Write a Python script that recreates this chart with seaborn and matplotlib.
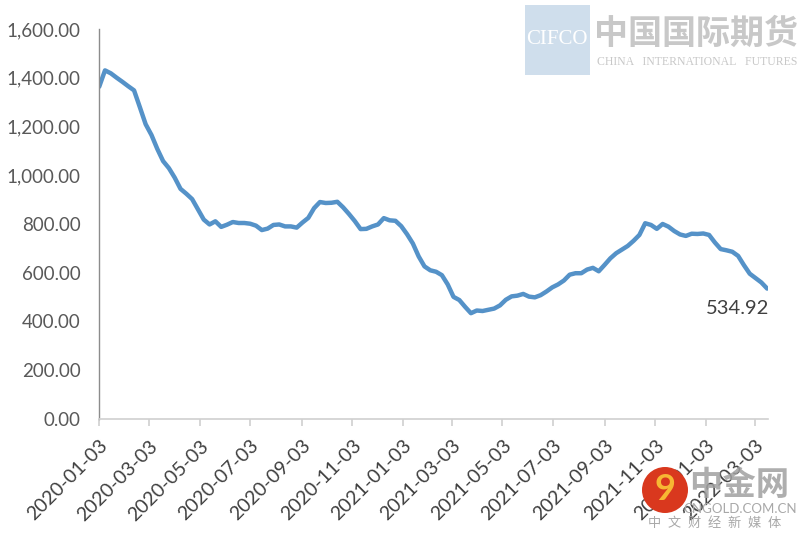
import matplotlib
matplotlib.use("Agg")
import numpy as np
import pandas as pd
import seaborn as sns
from matplotlib import pyplot as plt
from matplotlib.patches import Circle, Rectangle
from matplotlib.ticker import FuncFormatter


START_DATE = "2020-01-03"
N_WEEKS = 116

# weekly values
values = [
    1363, 1430, 1418, 1400, 1383, 1365, 1348, 1279, 1209, 1165,
    1108, 1058, 1029, 990, 944, 924, 902, 860, 818, 798,
    811, 788, 797, 808, 804, 804, 801, 793, 775, 781,
    796, 798, 790, 790, 785, 806, 825, 865, 890, 886,
    887, 891, 868, 841, 812, 779, 780, 790, 798, 824,
    815, 813, 791, 758, 720, 667, 626, 610, 604, 590,
    552, 501, 488, 460, 434, 445, 443, 448, 453, 466,
    489, 503, 506, 513, 502, 499, 508, 523, 540, 552,
    568, 592, 598, 598, 613, 620, 606, 632, 659, 680,
    695, 710, 731, 755, 803, 796, 780, 800, 789, 771,
    757, 751, 760, 759, 761, 755, 724, 697, 692, 686,
    669, 631, 596, 578, 560, 534.92,
]

tick_labels = [
    "2020-01-03", "2020-03-03", "2020-05-03", "2020-07-03", "2020-09-03",
    "2020-11-03", "2021-01-03", "2021-03-03", "2021-05-03", "2021-07-03",
    "2021-09-03", "2021-11-03", "2022-01-03", "2022-03-03",
]
y_ticks = [0, 200, 400, 600, 800, 1000, 1200, 1400, 1600]

LINE_COLOR = "#5592c8"
TEXT_COLOR = "#595959"


def build_frame():
    dates = pd.date_range(START_DATE, periods=N_WEEKS, freq="7D")
    return pd.DataFrame({"date": dates, "value": values})


def main():
    sns.set_theme(style="white")
    plt.rcParams["font.family"] = ["Lato", "Noto Sans CJK SC", "DejaVu Sans"]

    df = build_frame()
    fig = plt.figure(figsize=(8, 5.41), dpi=100)
    ax = fig.add_axes([0.124, 0.2255, 0.836, 0.721])

    sns.lineplot(data=df, x="date", y="value", ax=ax, color=LINE_COLOR,
                 linewidth=3.2, solid_joinstyle="round")

    ax.set_xlim(df["date"].iloc[0], df["date"].iloc[-1] + pd.Timedelta(days=1))
    ax.set_ylim(0, 1600)
    ax.set_yticks(y_ticks)
    ax.yaxis.set_major_formatter(FuncFormatter(lambda v, _: f"{v:,.2f}"))
    ax.set_xticks(pd.to_datetime(tick_labels))
    ax.set_xticklabels(tick_labels, rotation=45, ha="right",
                       rotation_mode="anchor")
    ax.set_xlabel(None)
    ax.set_ylabel(None)

    for side in ["top", "right"]:
        ax.spines[side].set_visible(False)
    ax.spines["left"].set_color("#8c8c8c")
    ax.spines["left"].set_linewidth(1.0)
    ax.spines["bottom"].set_color("#d0d0d0")
    ax.spines["bottom"].set_linewidth(1.2)
    ax.tick_params(axis="y", length=0, pad=13.5, labelsize=13.5,
                   labelcolor=TEXT_COLOR)
    ax.tick_params(axis="x", bottom=True, length=5, width=1.2,
                   color="#d0d0d0", pad=8, labelsize=14,
                   labelcolor="#404040")

    # label of the last point
    ax.annotate(f"{values[-1]:.2f}", xy=(df["date"].iloc[-1], values[-1]),
                xytext=(-21, -14.5), textcoords="offset points",
                ha="center", va="center", fontsize=14.5, color="#404040")

    # CIFCO watermark
    fig.patches.append(Rectangle((525 / 800, 1 - 75 / 541), 65 / 800,
                                 70 / 541, transform=fig.transFigure,
                                 facecolor="#cfdeec", edgecolor="none"))
    fig.text(557 / 800, 1 - 40 / 541, "CIFCO", color="white", fontsize=15,
             ha="center", va="center", family="Liberation Serif")
    fig.text(696 / 800, 1 - 34 / 541, "中国国际期货", color="#c8c8c8",
             fontsize=24.5, ha="center", va="center", weight="bold")
    fig.text(697 / 800, 1 - 62 / 541, "CHINA   INTERNATIONAL   FUTURES",
             color="#c8c8c8", fontsize=8.5, ha="center", va="center",
             family="Liberation Serif")

    # cngold watermark (circle placed in inches so it stays round)
    fig.patches.append(Circle((6.65, (541 - 490) / 100), 0.23,
                              transform=fig.dpi_scale_trans,
                              facecolor="#d9381e", edgecolor="none"))
    fig.text(665 / 800, 1 - 490 / 541, "9", color="#f7b733", fontsize=26,
             ha="center", va="center", weight="bold")
    fig.text(739 / 800, 1 - 484 / 541, "中金网", color="#a0a0a0",
             fontsize=24, ha="center", va="center", weight="bold",
             alpha=0.85)
    fig.text(740 / 800, 1 - 509 / 541, "CNGOLD.COM.CN", color="#a8a8a8",
             fontsize=9.5, ha="center", va="center")
    fig.text(715 / 800, 1 - 523 / 541, "中  文  财  经  新  媒  体",
             color="#a8a8a8", fontsize=9.5, ha="center", va="center")

    fig.savefig("out.png", dpi=100)


if __name__ == "__main__":
    main()
